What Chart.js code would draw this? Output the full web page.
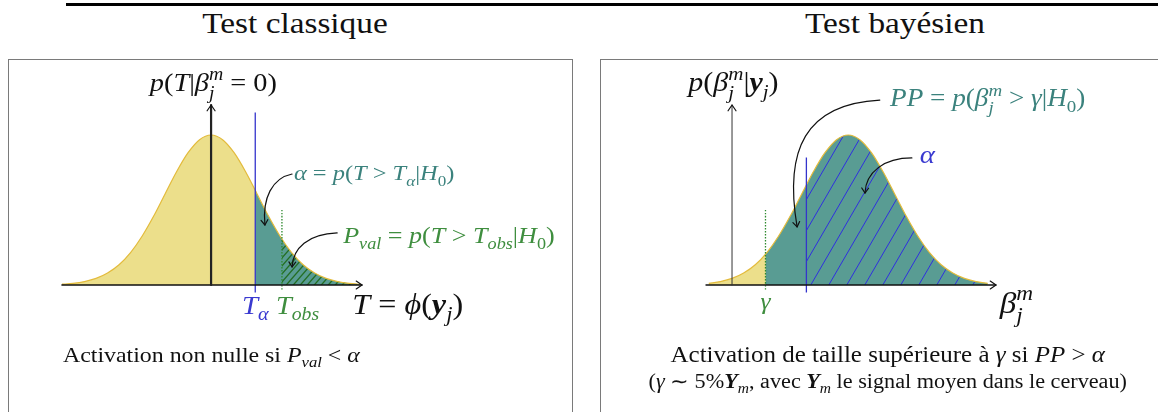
<!DOCTYPE html>
<html>
<head>
<meta charset="utf-8">
<script src="https://cdn.jsdelivr.net/npm/chart.js@4.4.1/dist/chart.umd.min.js"></script>
<style>
  body { margin: 0; width: 1158px; height: 412px; overflow: hidden; background: #fff; position: relative; font-family: "Liberation Serif", serif; }
  .rule { position: absolute; left: 66px; top: 3px; width: 1092px; height: 3px; background: #000; }
  .title { position: absolute; top: 8px; width: 400px; text-align: center; font-size: 30px; line-height: 30px; color: #111; transform: scaleX(1.11); }
  .box { position: absolute; top: 59px; height: 400px; border: 1px solid #7a7a7a; box-sizing: border-box; }
  canvas { position: absolute; }
</style>
</head>
<body>
<div class="rule"></div>
<div class="title" style="left:95px">Test classique</div>
<div class="title" style="left:695px">Test bayésien</div>
<div class="box" style="left:8px; width:565px"></div>
<div class="box" style="left:600px; width:600px"></div>
<canvas id="classic" width="564" height="353" style="left:8px; top:59px"></canvas>
<canvas id="bayes" width="558" height="353" style="left:600px; top:59px"></canvas>
<script>
// density of T under H0 (peak = 1)
const tGrid = [-3.25, -3, -2.75, -2.5, -2.25, -2, -1.75, -1.5, -1.25, -1, -0.75, -0.5, -0.25, 0,
  0.25, 0.5, 0.75, 1, 1.25, 1.5, 1.75, 2, 2.25, 2.5, 2.75, 3, 3.25];
const classicDensity = [0.005, 0.011, 0.023, 0.044, 0.080, 0.135, 0.216, 0.325, 0.458, 0.607, 0.755, 0.882, 0.969, 1.000,
  0.969, 0.882, 0.755, 0.607, 0.458, 0.325, 0.216, 0.135, 0.080, 0.044, 0.023, 0.011, 0.005];
// T_alpha, T_obs
const classicCuts = [0.96, 1.54];
const classicCutHeights = [0.64, 0.30];
const classicCutTops = [1.15, 0.50];
const classicCutBottoms = [-0.05, -0.03];

// posterior density of beta (peak = 1)
const betaGrid = [-0.5, -0.25, 0, 0.25, 0.5, 0.75, 1, 1.25, 1.5, 1.75, 2, 2.25, 2.5,
  2.75, 3, 3.25, 3.5, 3.75, 4, 4.25, 4.5, 4.75, 5, 5.25, 5.5];
const bayesDensity = [0.011, 0.023, 0.044, 0.080, 0.135, 0.216, 0.325, 0.458, 0.607, 0.755, 0.882, 0.969, 1.000,
  0.969, 0.882, 0.755, 0.607, 0.458, 0.325, 0.216, 0.135, 0.080, 0.044, 0.023, 0.011];
// gamma, alpha boundary
const bayesCuts = [0.72, 1.6];
const bayesCutHeights = [0.21, 0.67];
const bayesCutTops = [0.50, 0.85];
const bayesCutBottoms = [-0.03, -0.05];

const YELLOW = "#ecdf8b", GOLD = "#e3bb3c", TEAL = "#599c93";
const BLUE = "#3434cc", GREEN = "#2f8a2f";
const TEAL_TXT = "#3b827d", GREEN_TXT = "#3f8e3f", BLUE_TXT = "#3a3ad0";
const SX = 1.11; // Computer Modern is wider than Liberation Serif

function hatch(w, h, color, lw) {
  const c = document.createElement("canvas");
  c.width = w; c.height = h;
  const g = c.getContext("2d");
  g.strokeStyle = color; g.lineWidth = lw;
  for (let k = -1; k <= 1; k++) {
    g.beginPath();
    g.moveTo(k * w - w, 2 * h);
    g.lineTo(k * w + 2 * w, -h);
    g.stroke();
  }
  return g.createPattern(c, "repeat");
}

// little rich-text helper for the math labels
const KINDS = {
  r:    { font: "",             scale: 1,   dy: 0 },
  i:    { font: "italic ",      scale: 1,   dy: 0 },
  b:    { font: "italic bold ", scale: 1,   dy: 0 },
  sub:  { font: "italic ",      scale: 0.7, dy: 0.25 },
  subr: { font: "",             scale: 0.7, dy: 0.25 },
  sup:  { font: "italic ",      scale: 0.7, dy: -0.42 },
  subx: { font: "italic ",      scale: 0.7, dy: 0.3, stack: true }
};

function drawRich(ctx, runs, x, y, size, color, align) {
  let cx = 0, prevStart = 0, prevW = 0;
  const items = [];
  for (const [text, kind] of runs) {
    const k = KINDS[kind];
    const font = k.font + (size * k.scale).toFixed(1) + 'px "Liberation Serif"';
    ctx.font = font;
    const w = ctx.measureText(text).width;
    if (k.stack) {
      items.push({ text, font, x: prevStart, dy: k.dy * size });
      cx = prevStart + Math.max(w, prevW);
    } else {
      items.push({ text, font, x: cx, dy: k.dy * size });
      prevStart = cx; prevW = w;
      cx += w;
    }
  }
  const x0 = align === "center" ? x - cx * SX / 2 : x;
  ctx.save();
  ctx.translate(x0, y);
  ctx.scale(SX, 1);
  ctx.fillStyle = color;
  ctx.textBaseline = "alphabetic";
  ctx.textAlign = "left";
  for (const it of items) {
    ctx.font = it.font;
    ctx.fillText(it.text, it.x, it.dy);
  }
  ctx.restore();
}

function arrowHead(ctx, x, y, ang, size) {
  ctx.beginPath();
  ctx.moveTo(x - size * Math.cos(ang - 0.6), y - size * Math.sin(ang - 0.6));
  ctx.lineTo(x, y);
  ctx.lineTo(x - size * Math.cos(ang + 0.6), y - size * Math.sin(ang + 0.6));
  ctx.stroke();
}

const decorPlugin = {
  id: "decor",
  afterDatasetsDraw(chart, args, o) {
    const ctx = chart.ctx;
    const xs = chart.scales.x, ys = chart.scales.y;
    const X = v => xs.getPixelForValue(v), Y = v => ys.getPixelForValue(v);
    ctx.save();
    ctx.lineCap = "round";
    ctx.lineJoin = "round";
    // axes
    ctx.strokeStyle = "#111";
    ctx.lineWidth = o.xAxisWidth;
    ctx.beginPath();
    ctx.moveTo(X(xs.min), Y(0));
    ctx.lineTo(X(xs.max), Y(0));
    ctx.stroke();
    ctx.lineWidth = 1.2;
    arrowHead(ctx, X(xs.max), Y(0), 0, 7);
    ctx.strokeStyle = o.yAxisColor;
    ctx.lineWidth = o.yAxisWidth;
    ctx.beginPath();
    ctx.moveTo(X(0), Y(0));
    ctx.lineTo(X(0), Y(ys.max));
    ctx.stroke();
    ctx.strokeStyle = "#111";
    ctx.lineWidth = 1.2;
    arrowHead(ctx, X(0), Y(ys.max), -Math.PI / 2, 7);
    // curved arrows
    ctx.lineWidth = 1.2;
    for (const a of o.arrows) {
      const p = a.map(([u, v]) => [X(u), Y(v)]);
      ctx.beginPath();
      ctx.moveTo(p[0][0], p[0][1]);
      ctx.bezierCurveTo(p[1][0], p[1][1], p[2][0], p[2][1], p[3][0], p[3][1]);
      ctx.stroke();
      const ang = Math.atan2(p[3][1] - p[2][1], p[3][0] - p[2][0]);
      arrowHead(ctx, p[3][0], p[3][1], ang, 6);
    }
    // labels
    for (const l of o.labels) {
      drawRich(ctx, l.runs, X(l.x), Y(l.y), l.size, l.color, l.align);
    }
    ctx.restore();
  }
};

function buildChart(id, cfg) {
  const curve = cfg.xs.map((x, i) => ({ x, y: cfg.ys[i] }));
  const tail = j => [{ x: cfg.cuts[j], y: cfg.cutHeights[j] }].concat(curve.filter(p => p.x > cfg.cuts[j]));
  const cutLines = cfg.cuts.map((c, j) => ({
    data: [{ x: c, y: cfg.cutBottoms[j] }, { x: c, y: cfg.cutTops[j] }],
    borderColor: cfg.cutStyles[j].color,
    borderDash: cfg.cutStyles[j].dash,
    borderWidth: cfg.cutStyles[j].width,
    fill: false,
    order: 1
  }));
  return new Chart(document.getElementById(id).getContext("2d"), {
    type: "line",
    data: {
      datasets: [
        { data: curve, fill: "origin", backgroundColor: YELLOW, borderWidth: 0, order: 5 },
        { data: tail(0), fill: "origin", backgroundColor: TEAL, borderWidth: 0, order: 4 },
        { data: tail(1), fill: "origin", backgroundColor: cfg.hatch, borderWidth: 0, order: 3 },
        { data: curve, fill: false, borderColor: GOLD, borderWidth: 1.2, order: 2 },
        ...cutLines
      ]
    },
    options: {
      responsive: false,
      animation: false,
      events: [],
      layout: { padding: cfg.padding },
      elements: {
        point: { radius: 0 },
        line: { cubicInterpolationMode: "monotone" }
      },
      scales: {
        x: { type: "linear", display: false, min: cfg.xMin, max: cfg.xMax },
        y: { type: "linear", display: false, min: -0.1, max: 1.2 }
      },
      plugins: {
        legend: { display: false },
        tooltip: { enabled: false },
        decor: cfg.decor
      }
    },
    plugins: [decorPlugin]
  });
}

buildChart("classic", {
  xs: tGrid, ys: classicDensity,
  cuts: classicCuts, cutHeights: classicCutHeights, cutTops: classicCutTops, cutBottoms: classicCutBottoms,
  cutStyles: [{ color: BLUE, dash: [], width: 1.3 }, { color: GREEN, dash: [1.5, 1.5], width: 1.3 }],
  hatch: hatch(7, 8, "#236e23", 1.3),
  xMin: -3.24, xMax: 3.28,
  padding: { left: 54, right: 210, top: 46, bottom: 112 },
  decor: {
    xAxisWidth: 1.6, yAxisWidth: 2.2, yAxisColor: "#222",
    arrows: [
      [[1.76, 0.74], [1.33, 0.713], [1.11, 0.58], [1.17, 0.40]],
      [[2.74, 0.347], [2.11, 0.34], [1.78, 0.247], [1.76, 0.12]]
    ],
    labels: [
      { runs: [["p", "i"], ["(", "r"], ["T", "i"], ["|", "r"], ["β", "i"], ["m", "sup"], ["j", "subx"], [" = 0)", "r"]],
        x: 0.05, y: 1.293, size: 25.5, color: "#111", align: "center" },
      { runs: [["α", "i"], [" = ", "r"], ["p", "i"], ["(", "r"], ["T", "i"], [" > ", "r"], ["T", "i"], ["α", "sub"],
        ["|", "r"], ["H", "i"], ["0", "subr"], [")", "r"]],
        x: 1.80, y: 0.70, size: 22, color: TEAL_TXT, align: "left" },
      { runs: [["P", "i"], ["val", "sub"], [" = ", "r"], ["p", "i"], ["(", "r"], ["T", "i"], [" > ", "r"], ["T", "i"], ["obs", "sub"],
        ["|", "r"], ["H", "i"], ["0", "subr"], [")", "r"]],
        x: 2.87, y: 0.28, size: 23.5, color: GREEN_TXT, align: "left" },
      { runs: [["T", "i"], ["α", "sub"]], x: classicCuts[0], y: -0.193, size: 26, color: BLUE_TXT, align: "center" },
      { runs: [["T", "i"], ["obs", "sub"]], x: 1.41, y: -0.193, size: 25.5, color: GREEN_TXT, align: "left" },
      { runs: [["T", "i"], [" = ", "r"], ["ϕ", "i"], ["(", "r"], ["y", "b"], ["j", "sub"], [")", "r"]],
        x: 3.07, y: -0.193, size: 29, color: "#111", align: "left" },
      { runs: [["Activation non nulle si ", "r"], ["P", "i"], ["val", "sub"], [" < ", "r"], ["α", "i"]],
        x: -3.22, y: -0.513, size: 21.5, color: "#111", align: "left" }
    ]
  }
});

buildChart("bayes", {
  xs: betaGrid, ys: bayesDensity,
  cuts: bayesCuts, cutHeights: bayesCutHeights, cutTops: bayesCutTops, cutBottoms: bayesCutBottoms,
  cutStyles: [{ color: GREEN, dash: [1.5, 1.5], width: 1.3 }, { color: BLUE, dash: [], width: 1.3 }],
  hatch: hatch(18, 31, "#2f2fe0", 1),
  xMin: -0.56, xMax: 5.68,
  padding: { left: 106, right: 162, top: 46, bottom: 112 },
  decor: {
    xAxisWidth: 1.4, yAxisWidth: 1, yAxisColor: "#333",
    arrows: [
      [[3.18, 1.233], [1.57, 1.207], [1.12, 0.9], [1.40, 0.387]],
      [[3.87, 0.847], [3.27, 0.847], [2.88, 0.753], [2.86, 0.613]]
    ],
    labels: [
      { runs: [["p", "i"], ["(", "r"], ["β", "i"], ["m", "sup"], ["j", "subx"], ["|", "r"], ["y", "b"], ["j", "sub"], [")", "r"]],
        x: 0.03, y: 1.293, size: 27, color: "#111", align: "center" },
      { runs: [["PP", "i"], [" = ", "r"], ["p", "i"], ["(", "r"], ["β", "i"], ["m", "sup"], ["j", "subx"], [" > ", "r"], ["γ", "i"],
        ["|", "r"], ["H", "i"], ["0", "subr"], [")", "r"]],
        x: 3.40, y: 1.193, size: 24.5, color: TEAL_TXT, align: "left" },
      { runs: [["α", "i"]], x: 4.04, y: 0.813, size: 26, color: BLUE_TXT, align: "left" },
      { runs: [["γ", "i"]], x: bayesCuts[0], y: -0.16, size: 23, color: GREEN_TXT, align: "center" },
      { runs: [["β", "i"], ["m", "sup"], ["j", "subx"]], x: 5.76, y: -0.187, size: 30, color: "#111", align: "left" },
      { runs: [["Activation de taille supérieure à ", "r"], ["γ", "i"], [" si ", "r"], ["PP", "i"], [" > ", "r"], ["α", "i"]],
        x: 3.35, y: -0.513, size: 22.5, color: "#111", align: "center" },
      { runs: [["(", "r"], ["γ", "i"], [" ∼ 5%", "r"], ["Y", "b"], ["m", "sub"], [", avec ", "r"], ["Y", "b"], ["m", "sub"],
        [" le signal moyen dans le cerveau)", "r"]],
        x: 3.35, y: -0.685, size: 20, color: "#111", align: "center" }
    ]
  }
});
</script>
</body>
</html>
